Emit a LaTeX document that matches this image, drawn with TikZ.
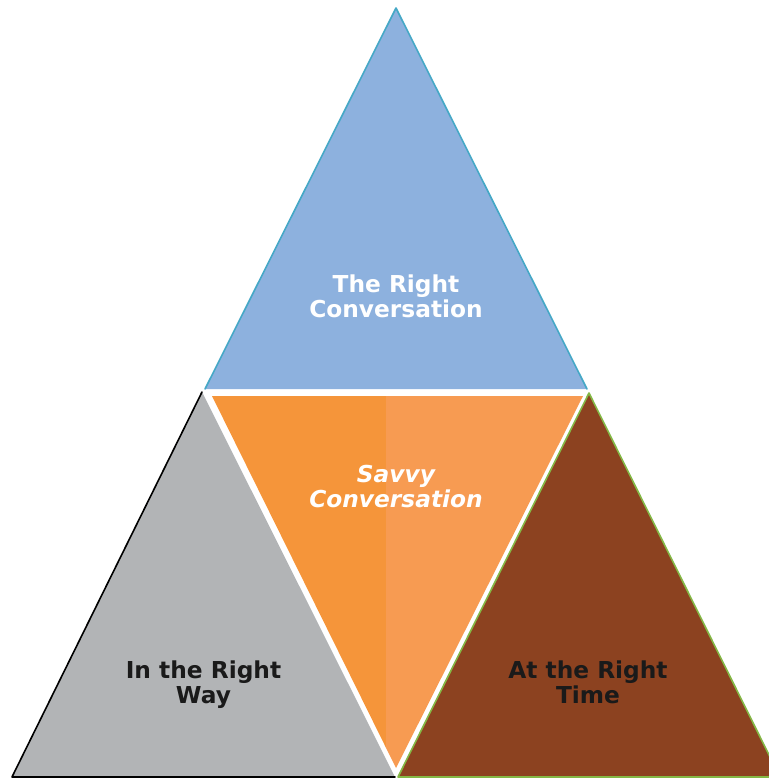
\documentclass[tikz,border=0pt]{standalone}
\usepackage{fontspec}
\setmainfont{DejaVu Sans}
\definecolor{skyfill}{HTML}{8DB1DE}
\definecolor{skyline}{HTML}{45A8C6}
\definecolor{greyfill}{HTML}{B2B4B6}
\definecolor{rustfill}{HTML}{8C4220}
\definecolor{leafline}{HTML}{84B846}
\definecolor{orangeA}{HTML}{F5953A}
\definecolor{orangeB}{HTML}{F79B52}
\definecolor{inkdark}{HTML}{1A1A1A}
\tikzset{
  lbl/.style={inner sep=0pt, align=center, anchor=north,
    font=\fontsize{23.3}{25}\selectfont\bfseries},
  edge/.style={line width=1.6pt, line join=round, line cap=round}
}
\begin{document}
\begin{tikzpicture}[x=1pt, y=-1pt]
  \useasboundingbox (0,0) rectangle (769,780);
  % upper triangle
  \fill[skyfill] (396,8) -- (587,389) -- (205,389) -- cycle;
  \draw[edge, skyline] (205,389) -- (396,8) -- (587,389);
  % lower left triangle
  \fill[greyfill] (202,392) -- (395,777) -- (12,777) -- cycle;
  \draw[edge, black] (395,777) -- (12,777) -- (202,392);
  % lower right triangle
  \fill[rustfill] (589,393) -- (780,777) -- (398,777) -- cycle;
  \draw[edge, leafline] (589,393) -- (780,777) -- (398,777) -- cycle;
  % inverted middle triangle, two tones
  \begin{scope}
    \clip (212,396) -- (583,396) -- (396,768) -- cycle;
    \fill[orangeA] (200,390) rectangle (386,780);
    \fill[orangeB] (386,390) rectangle (600,780);
  \end{scope}
  % labels
  \node[lbl, text=white] (top) at (396,274.5) {The Right\\Conversation};
  \node[lbl, text=white, font=\fontsize{23.3}{25}\selectfont\bfseries\itshape]
    (mid) at (396,465) {Savvy\\Conversation};
  \node[lbl, text=inkdark] (way) at (203.5,660.5) {In the Right\\Way};
  \node[lbl, text=inkdark] (time) at (588,660.5) {At the Right\\Time};
\end{tikzpicture}
\end{document}
